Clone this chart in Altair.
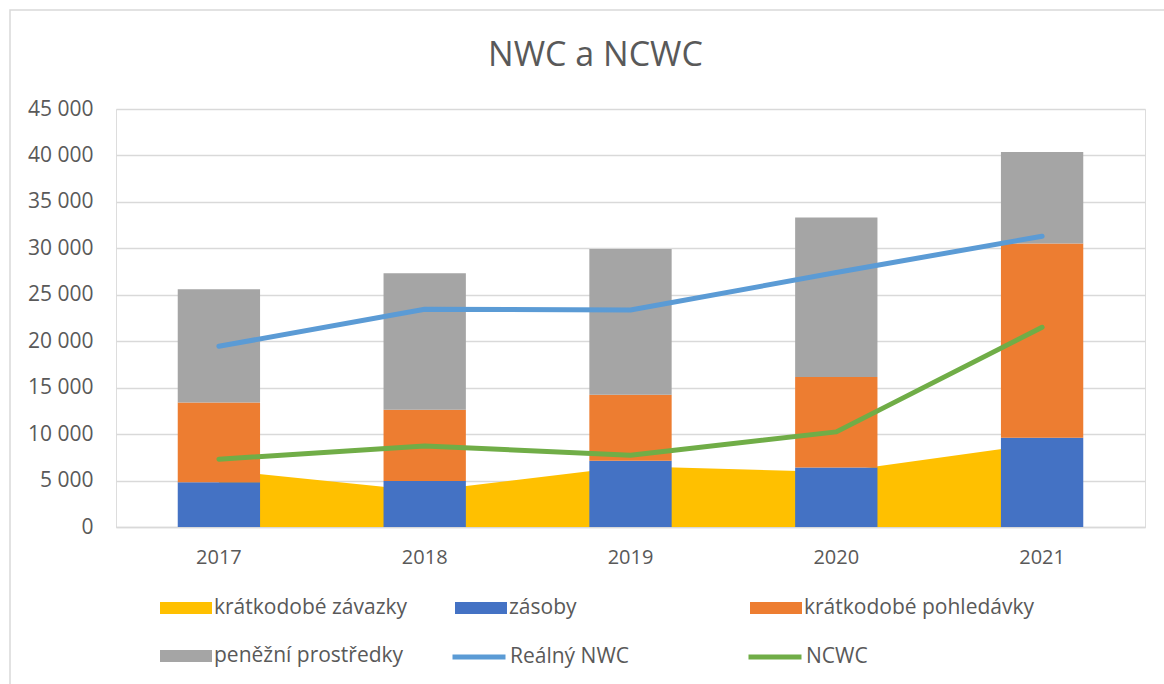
import altair as alt
import pandas as pd

years = ["2017", "2018", "2019", "2020", "2021"]
zavazky = [6150, 3870, 6550, 5920, 9000]
zasoby = [4820, 4960, 7120, 6400, 9600]
pohledavky = [8590, 7650, 7110, 9740, 20910]
penezni = [12180, 14710, 15710, 17170, 9850]
realny_nwc = [19450, 23440, 23360, 27400, 31310]
ncwc = [7300, 8730, 7730, 10240, 21500]

fill_series = ["krátkodobé závazky", "zásoby", "krátkodobé pohledávky", "peněžní prostředky"]
fill_colors = ["#FFC000", "#4472C4", "#ED7D31", "#A5A5A5"]
line_series = ["Reálný NWC", "NCWC"]
line_colors = ["#5B9BD5", "#70AD47"]

FONT = "Open Sans"
TXT = "#595959"
GRID = "#D9D9D9"

area_df = pd.DataFrame({"year": years, "value": zavazky, "series": fill_series[0]})
bar_rows = []
for i, y in enumerate(years):
    for k, (name, vals) in enumerate(zip(fill_series[1:], [zasoby, pohledavky, penezni])):
        bar_rows.append({"year": y, "series": name, "value": vals[i], "ord": k})
bar_df = pd.DataFrame(bar_rows)
line_rows = []
for name, vals in zip(line_series, [realny_nwc, ncwc]):
    for i, y in enumerate(years):
        line_rows.append({"year": y, "series": name, "value": vals[i]})
line_df = pd.DataFrame(line_rows)

W, H = 1029, 418

x_scale = alt.Scale(paddingInner=0.6, paddingOuter=0.3)
x_axis = alt.Axis(labelAngle=0, ticks=False, tickSize=0, labelPadding=20, bandPosition=0.5,
                  labelAlign="center", labelFont=FONT, labelFontSize=20, labelColor=TXT,
                  domainColor=GRID, domainWidth=1.5, grid=False)


def xe(center):
    if center:
        return alt.X("year:N", title=None, scale=x_scale, axis=x_axis, bandPosition=0.5)
    return alt.X("year:N", title=None, scale=x_scale, axis=x_axis)


y_scale = alt.Scale(domain=[0, 45000], nice=False)
y_axis = alt.Axis(values=list(range(0, 45001, 5000)), ticks=False, tickSize=0, domain=False,
                  labelPadding=23, labelFont=FONT, labelFontSize=21, labelColor=TXT,
                  gridColor=GRID, gridWidth=1.5,
                  labelExpr="replace(format(datum.value, ','), ',', ' ')")

color_scale = alt.Scale(domain=fill_series, range=fill_colors)
fill_legend = alt.Legend(title=None, orient="none", legendX=44, legendY=473, columns=3,
                         direction="horizontal", gridAlign="all", columnPadding=10, rowPadding=12,
                         symbolType="M-1,-0.23L1,-0.23L1,0.23L-1,0.23Z", symbolSize=2704,
                         symbolStrokeWidth=0, symbolOpacity=1, labelLimit=400,
                         labelFont=FONT, labelFontSize=21, labelColor=TXT, labelOffset=2,
                         padding=0)

area = alt.Chart(area_df).mark_area(opacity=1).encode(
    x=xe(True),
    y=alt.Y("value:Q", stack=None, scale=y_scale, axis=y_axis, title=None),
    color=alt.Color("series:N", scale=color_scale, legend=fill_legend),
)

bars = alt.Chart(bar_df).mark_bar(opacity=1).encode(
    x=xe(False),
    y=alt.Y("value:Q", stack="zero", scale=y_scale, axis=y_axis, title=None),
    color=alt.Color("series:N", scale=color_scale, legend=fill_legend),
    order=alt.Order("ord:Q"),
)

lines = alt.Chart(line_df).mark_line(strokeWidth=5, strokeCap="round", strokeJoin="round").encode(
    x=xe(True),
    y=alt.Y("value:Q", scale=y_scale, axis=y_axis, title=None),
    stroke=alt.Stroke("series:N", scale=alt.Scale(domain=line_series, range=line_colors),
                      legend=alt.Legend(title=None, orient="none", legendX=334, legendY=519,
                                        columns=2, direction="horizontal", gridAlign="all",
                                        columnPadding=108, labelLimit=400,
                                        symbolType="stroke", symbolSize=2809,
                                        symbolStrokeWidth=5,
                                        labelFont=FONT, labelFontSize=21, labelColor=TXT,
                                        labelOffset=2, padding=0)),
)

border = alt.Chart(pd.DataFrame({"a": [0]})).mark_rect(
    fillOpacity=0, stroke=GRID, strokeWidth=1.5
).encode(x=alt.value(-106), x2=alt.value(W + 60), y=alt.value(-99), y2=alt.value(H + 200))

chart = alt.layer(border, area, bars, lines).resolve_scale(color="shared").properties(
    width=W, height=H,
    title=alt.TitleParams("NWC a NCWC", font=FONT, fontSize=34, fontWeight="normal",
                          color=TXT, anchor="middle", frame="group", dx=-35, offset=0,
                          baseline="alphabetic", dy=91),
    autosize=alt.AutoSizeParams(type="none"),
    padding={"left": 116, "top": 109, "right": 19, "bottom": 157},
).configure_view(stroke=None).configure(background="white")

chart.save("out.html", embed_options={"renderer": "svg", "actions": False})
